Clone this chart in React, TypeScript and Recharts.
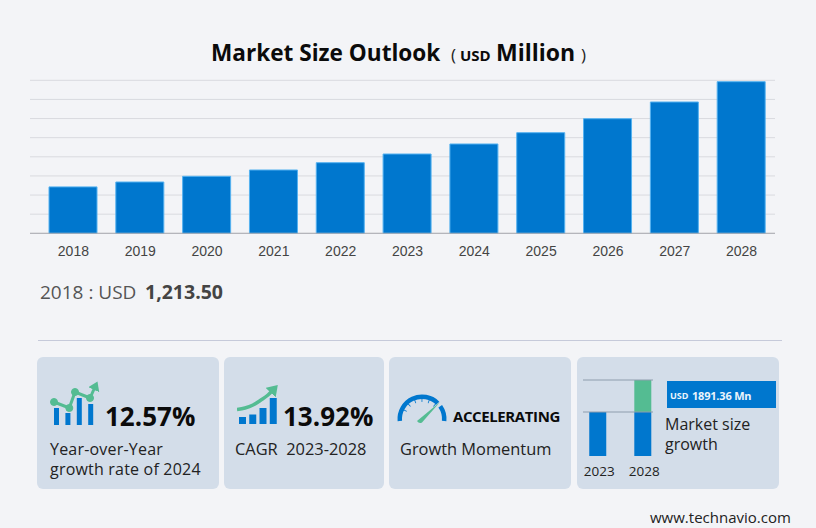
import React from 'react';
import {
  BarChart, Bar, ComposedChart, Line, PieChart, Pie, Cell,
  XAxis, YAxis, CartesianGrid, ReferenceLine,
} from 'recharts';

const C = {
  bg: '#F3F4F7',
  card: '#D3DDE9',
  blue: '#0077CE',
  edge: '#55B2F0',
  green: '#54BC92',
  grid: '#D9DADF',
  axis: '#A9ABB1',
  text: '#222',
};

// main chart, USD million
const years = ['2018', '2019', '2020', '2021', '2022', '2023', '2024', '2025', '2026', '2027', '2028'];
const sizes = [1213.5, 1341, 1490, 1655, 1846, 2073, 2335, 2630, 2996, 3433, 3964];
const yTicks = [0, 500, 1000, 1500, 2000, 2500, 3000, 3500, 4000];

// small 2023 vs 2028 chart in the last card (schematic, not to scale with the main one)
const miniYears = [2023, 2028];
const miniBase = [44, 44];
const miniGrowth = [0, 32];

// pictograms
const iconSlots = ['a', 'b', 'c', 'd'];
const yoyBarH = [17, 12, 27, 21];
const yoyDotX = [4, 19.3, 25, 40];
const yoyDotH = [23, 17, 33, 27];
const yoyTipX = [40, 45];
const yoyTipH = [27, 38];
const cagrBarH = [7, 9.5, 16, 26];
const cagrLineX = [0, 8, 16, 24, 31, 36];
const cagrLineH = [14.5, 16, 19, 24, 29, 34];
const gaugeArc = [140, 10, 40];
const gaugeTicks = [18, 3, 22, 3, 22, 3, 22, 3, 22, 3, 22, 3, 22];

const rows = years.map((year, i) => ({ year, size: sizes[i] }));
const miniRows = miniYears.map((year, i) => ({ year, base: miniBase[i], growth: miniGrowth[i] }));
const yoyBars = iconSlots.map((slot, i) => ({ slot, h: yoyBarH[i] }));
const yoyDots = yoyDotX.map((x, i) => ({ x, h: yoyDotH[i] }));
const yoyTip = yoyTipX.map((x, i) => ({ x, h: yoyTipH[i] }));
const cagrBars = iconSlots.map((slot, i) => ({ slot, h: cagrBarH[i] }));
const cagrLine = cagrLineX.map((x, i) => ({ x, h: cagrLineH[i] }));

const sans = '"Open Sans", "Noto Sans", sans-serif';

function T({ x, y, size, bold, color = C.text, family = sans, spacing, children }: any) {
  // y is the vertical centre of the line
  const lh = Math.round(size * 1.1);
  return (
    <div style={{
      position: 'absolute', left: x, top: y - lh / 2, height: lh, lineHeight: `${lh}px`,
      fontSize: size, fontWeight: bold ? 700 : 400, color, fontFamily: family,
      letterSpacing: spacing, whiteSpace: 'nowrap',
    }}>
      {children}
    </div>
  );
}

function Box({ x, y, w, h, color = C.card, radius = 6 }: any) {
  return <div style={{ position: 'absolute', left: x, top: y, width: w, height: h, background: color, borderRadius: radius }} />;
}

function ArrowDefs({ id }: { id: string }) {
  return (
    <defs>
      <marker id={id} markerWidth="4" markerHeight="4" refX="1" refY="2" orient="auto">
        <path d="M0,0 L3,2 L0,4 Z" fill={C.green} />
      </marker>
    </defs>
  );
}

function YoyIcon() {
  return (
    <div style={{ position: 'absolute', left: 50, top: 377 }}>
      <ComposedChart width={52} height={48} data={yoyBars} margin={{ top: 0, right: 0, bottom: 0, left: 0 }}>
        <ArrowDefs id="yoy-arrow" />
        <XAxis xAxisId="bars" dataKey="slot" padding={{ left: 1, right: 5.4 }} hide />
        <XAxis xAxisId="line" dataKey="x" type="number" domain={[0, 52]} hide />
        <YAxis domain={[0, 48]} hide />
        <Bar xAxisId="bars" dataKey="h" fill={C.blue} barSize={5} isAnimationActive={false} />
        <Line xAxisId="line" data={yoyTip} dataKey="h" stroke={C.green} strokeWidth={3} dot={false} markerEnd="url(#yoy-arrow)" isAnimationActive={false} />
        <Line xAxisId="line" data={yoyDots} dataKey="h" stroke={C.green} strokeWidth={3} dot={{ r: 3.5, fill: C.green, stroke: C.green, strokeWidth: 1 }} isAnimationActive={false} />
      </ComposedChart>
    </div>
  );
}

function CagrIcon() {
  return (
    <div style={{ position: 'absolute', left: 237, top: 380 }}>
      <ComposedChart width={44} height={44} data={cagrBars} margin={{ top: 0, right: 0, bottom: 0, left: 0 }}>
        <ArrowDefs id="cagr-arrow" />
        <XAxis xAxisId="bars" dataKey="slot" padding={{ left: 0, right: 3 }} hide />
        <XAxis xAxisId="line" dataKey="x" type="number" domain={[0, 44]} hide />
        <YAxis domain={[0, 44]} hide />
        <Bar xAxisId="bars" dataKey="h" fill={C.blue} barSize={7} isAnimationActive={false} />
        <Line xAxisId="line" data={cagrLine} dataKey="h" type="monotone" stroke={C.green} strokeWidth={3.5} dot={false} markerEnd="url(#cagr-arrow)" isAnimationActive={false} />
      </ComposedChart>
    </div>
  );
}

function GaugeIcon() {
  const size = 60;
  const cx = 30;
  const cy = 30;
  return (
    <div style={{ position: 'absolute', left: 392, top: 389, width: size, height: 40 }}>
      <PieChart width={size} height={size} margin={{ top: 0, right: 0, bottom: 0, left: 0 }}>
        <Pie data={gaugeArc.map((v) => ({ v }))} dataKey="v" cx={cx} cy={cy} startAngle={185} endAngle={-5}
          innerRadius={20} outerRadius={24.5} stroke="none" isAnimationActive={false}>
          {gaugeArc.map((_, i) => <Cell key={i} fill={i === 1 ? 'transparent' : C.blue} />)}
        </Pie>
        <Pie data={gaugeTicks.map((v) => ({ v }))} dataKey="v" cx={cx} cy={cy} startAngle={170} endAngle={28}
          innerRadius={17} outerRadius={20.5} stroke="none" isAnimationActive={false}>
          {gaugeTicks.map((_, i) => <Cell key={i} fill={i % 2 ? C.blue : 'transparent'} />)}
        </Pie>
      </PieChart>
      {/* needle */}
      <svg width={60} height={40} style={{ position: 'absolute', left: 0, top: 0 }}>
        <path d="M25 32 L48 13 L30 33.5 Q27 35 25 32 Z" fill={C.green} />
      </svg>
    </div>
  );
}

function MiniChart() {
  return (
    <div style={{ position: 'absolute', left: 570, top: 378 }}>
      <BarChart width={104} height={110} data={miniRows} margin={{ top: 2, right: 21, bottom: 8, left: 13 }}>
        <XAxis dataKey="year" type="number" domain={[2021.36, 2029.13]} ticks={miniYears} interval={0}
          height={24} tickLine={false} axisLine={false} tickMargin={4}
          tick={{ fill: C.text, fontSize: 13.5, fontFamily: sans, dx: 1.5 }} />
        <YAxis domain={[0, 76]} hide />
        <Bar dataKey="base" stackId="a" fill={C.blue} barSize={17} isAnimationActive={false} />
        <Bar dataKey="growth" stackId="a" fill={C.green} barSize={17} isAnimationActive={false} />
        <ReferenceLine y={44} stroke="#8E9DAD" />
        <ReferenceLine y={76} stroke="#8E9DAD" />
      </BarChart>
    </div>
  );
}

export default function App() {
  return (
    <div style={{ position: 'absolute', left: 0, top: 0, width: 816, height: 528, background: C.bg, overflow: 'hidden' }}>
      <T x={211} y={52} size={22.6} bold color="#0B0B0B">Market Size Outlook</T>
      <T x={451} y={54} size={17} color="#222">(</T>
      <T x={460} y={55} size={15} bold color="#0B0B0B">USD</T>
      <T x={496} y={52} size={23} bold color="#0B0B0B">Million</T>
      <T x={581} y={54} size={17} color="#222">)</T>

      <div style={{ position: 'absolute', left: 30, top: 79 }}>
        <BarChart width={745} height={185} data={rows} margin={{ top: 1.3, right: 0, bottom: 0, left: 0 }}>
          <CartesianGrid horizontal vertical={false} stroke={C.grid} />
          <XAxis dataKey="year" height={30.7} padding={{ left: 10 }} interval={0}
            tickLine={false} axisLine={{ stroke: C.axis }} tickMargin={7}
            tick={{ fill: '#444', fontSize: 14, fontFamily: '"Liberation Sans", Arial, sans-serif' }} />
          <YAxis domain={[0, 4000]} ticks={yTicks} interval={0} hide />
          <Bar dataKey="size" fill={C.blue} stroke={C.edge} strokeWidth={1} barSize={48} isAnimationActive={false} />
        </BarChart>
      </div>

      <T x={40} y={292} size={19} color="#555">2018 : USD</T>
      <T x={145} y={291} size={19.5} bold color="#444">1,213.50</T>
      <div style={{ position: 'absolute', left: 38, top: 340, width: 744, height: 1, background: '#C6CADA' }} />

      <Box x={37} y={357} w={182} h={132} />
      <Box x={224} y={357} w={160} h={132} />
      <Box x={389} y={357} w={182} h={132} />
      <Box x={577} y={357} w={202} h={132} />

      <YoyIcon />
      <T x={105} y={416} size={26} bold color="#0B0B0B">12.57%</T>
      <T x={50} y={449} size={16} spacing={0.2}>Year-over-Year</T>
      <T x={50} y={469} size={16} spacing={0.2}>growth rate of 2024</T>

      <CagrIcon />
      <T x={283} y={416} size={26} bold color="#0B0B0B">13.92%</T>
      <T x={235} y={449} size={16.4}>CAGR&nbsp; 2023-2028</T>

      <GaugeIcon />
      <T x={453} y={416} size={15} bold color="#0B0B0B" spacing={-0.4}>ACCELERATING</T>
      <T x={400} y={449} size={16.4}>Growth Momentum</T>

      <MiniChart />
      <Box x={667} y={381} w={109} h={27} color={C.blue} radius={0} />
      <T x={670} y={396} size={9} bold color="#EAF4FC">USD</T>
      <T x={692} y={396} size={11} bold color="#EAF4FC" spacing={-0.2}>1891.36 Mn</T>
      <T x={665} y={424} size={16}>Market size</T>
      <T x={665} y={444} size={16}>growth</T>

      <T x={650} y={517} size={15}>www.technavio.com</T>
    </div>
  );
}
